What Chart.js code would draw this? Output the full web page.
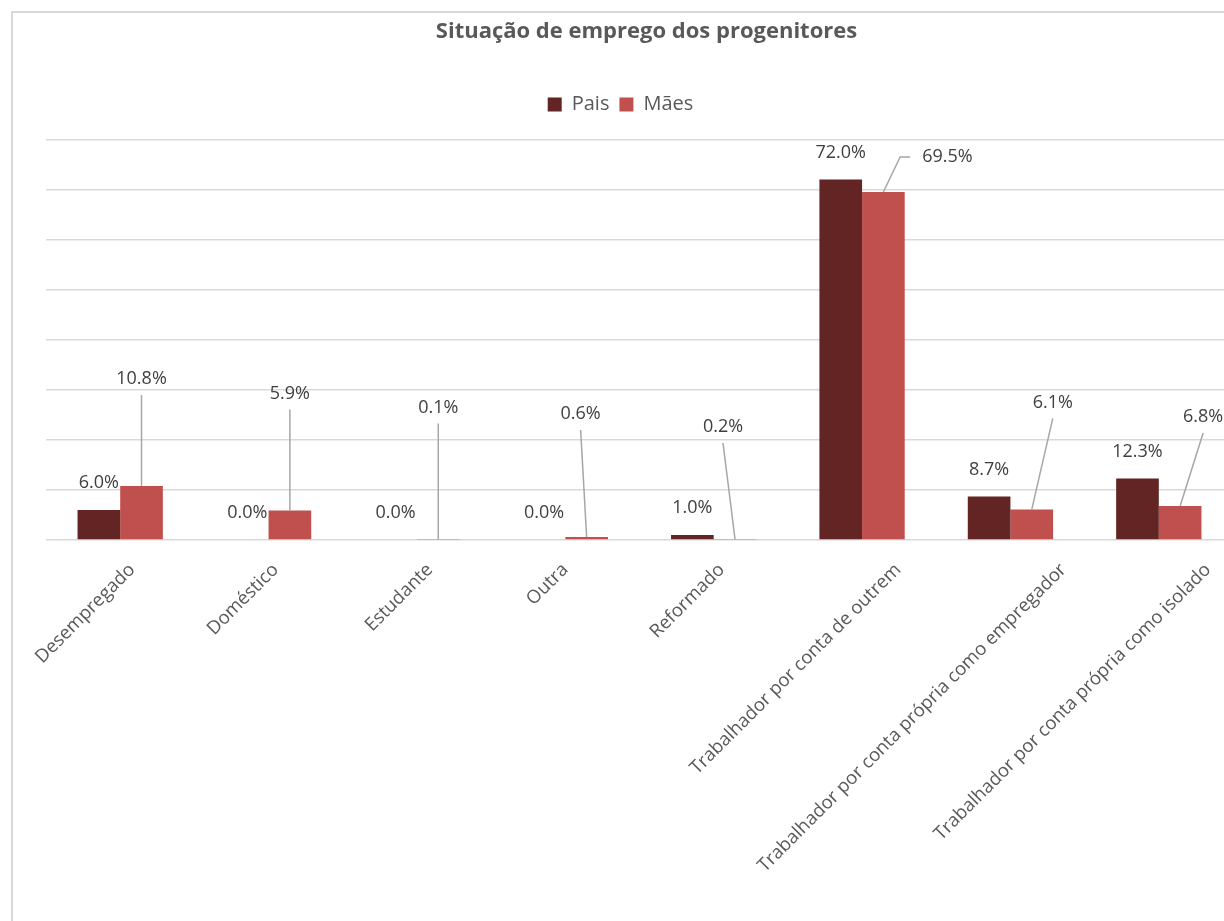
<!DOCTYPE html>
<html>
<head>
<meta charset="utf-8">
<script src="https://cdn.jsdelivr.net/npm/chart.js@4.4.1/dist/chart.umd.min.js"></script>
<style>
  html, body { margin: 0; padding: 0; background: #fff; overflow: hidden; }
  #frame {
    position: absolute; left: 11px; top: 11px;
    width: 1290px; height: 930px;
    border-left: 2px solid #d9d9d9; border-top: 2px solid #d9d9d9;
  }
  #myChart { position: absolute; left: 0; top: 0; }
</style>
</head>
<body>
<div id="frame"><canvas id="myChart" width="1270" height="909"></canvas></div>
<script>
const categorias = [
    'Desempregado',
    'Doméstico',
    'Estudante',
    'Outra',
    'Reformado',
    'Trabalhador por conta de outrem',
    'Trabalhador por conta própria como empregador',
    'Trabalhador por conta própria como isolado'
];
const paisValores = [6.0, 0.0, 0.0, 0.0, 1.0, 72.0, 8.7, 12.3];
const maesValores = [10.8, 5.9, 0.1, 0.6, 0.2, 69.5, 6.1, 6.8];

const COR_PAIS = '#632523';
const COR_MAES = '#c0504d';

// onde ficam as etiquetas das Mães (dx, dy em px a partir do topo da barra)
const etiquetasMaes = [[0, 107], [0, 117], [0, 132], [-6, 123], [-12, 112], [64, 35], [21, 107], [23, 89]];
// o Excel desloca os rótulos compridos do eixo x para a direita
const desvioRotulos = [12, 7, 13, 0, 8, 36, 53, 49];

// espaço vazio entre a legenda e a área do gráfico
const espaco = {
    position: 'top',
    weight: 500,
    fullSize: true,
    options: {},
    update(maxWidth) {
        this.width = maxWidth;
        this.height = 15;
    },
    isHorizontal() { return true; },
    draw() {}
};

const etiquetas = {
    id: 'etiquetas',
    beforeInit(chart) {
        Chart.layouts.addBox(chart, espaco);
    },
    afterLayout(chart) {
        // legenda um pouco à esquerda e título um pouco à direita, como no original
        chart.legend.left -= 19;
        chart.legend.right -= 19;
        chart.titleBlock.left += 7;
        chart.titleBlock.right += 7;
    },
    beforeDraw(chart) {
        chart.scales.x.getLabelItems().forEach((it, i) => {
            if (!it.movido) {
                it.options.translation[0] += desvioRotulos[i];
                it.movido = true;
            }
        });
    },
    afterDatasetsDraw(chart) {
        const ctx = chart.ctx;
        ctx.save();
        ctx.font = '18px "Open Sans"';
        ctx.fillStyle = '#404040';
        ctx.textAlign = 'center';
        ctx.textBaseline = 'middle';

        chart.getDatasetMeta(0).data.forEach((bar, i) => {
            ctx.fillText(paisValores[i].toFixed(1) + '%', bar.x, bar.y - 27);
        });

        chart.getDatasetMeta(1).data.forEach((bar, i) => {
            const txt = maesValores[i].toFixed(1) + '%';
            const lx = bar.x + etiquetasMaes[i][0];
            const ly = bar.y - etiquetasMaes[i][1];
            ctx.strokeStyle = '#a6a6a6';
            ctx.lineWidth = 1.5;
            ctx.beginPath();
            ctx.moveTo(bar.x, bar.y);
            if (etiquetasMaes[i][0] > 40) {
                const w = ctx.measureText(txt).width;
                const left = lx - w / 2;
                ctx.lineTo(left - 22, ly);
                ctx.lineTo(left - 12, ly);
            } else {
                ctx.lineTo(lx, ly + 16);
            }
            ctx.stroke();
            ctx.fillText(txt, lx, ly);
        });
        ctx.restore();
    }
};

new Chart(document.getElementById('myChart').getContext('2d'), {
    type: 'bar',
    data: {
        labels: categorias,
        datasets: [
            { label: 'Pais', data: paisValores, backgroundColor: COR_PAIS },
            { label: 'Mães', data: maesValores, backgroundColor: COR_MAES }
        ]
    },
    options: {
        responsive: false,
        animation: false,
        devicePixelRatio: 1,
        categoryPercentage: 0.575,
        barPercentage: 1,
        layout: { padding: { left: 33, right: 50, top: 0, bottom: 0 } },
        plugins: {
            title: {
                display: true,
                text: 'Situação de emprego dos progenitores',
                color: '#595959',
                font: { family: '"Open Sans"', size: 22, weight: 'bold' },
                padding: { top: 6, bottom: 39 }
            },
            legend: {
                position: 'top',
                labels: {
                    color: '#595959',
                    font: { family: '"Open Sans"', size: 20 },
                    boxWidth: 14,
                    boxHeight: 14,
                    padding: 10
                }
            },
            tooltip: { enabled: false }
        },
        scales: {
            x: {
                grid: { display: false },
                border: { display: false },
                ticks: {
                    color: '#595959',
                    font: { family: '"Open Sans"', size: 18.5 },
                    minRotation: 45,
                    maxRotation: 45,
                    labelOffset: 0,
                    padding: 11
                },
                afterFit(axis) { axis.height = 382; }
            },
            y: {
                min: 0,
                max: 80,
                ticks: { display: false, stepSize: 10 },
                grid: { color: '#d9d9d9', lineWidth: 1.5, drawTicks: false },
                border: { display: false }
            }
        }
    },
    plugins: [etiquetas]
});
</script>
</body>
</html>
